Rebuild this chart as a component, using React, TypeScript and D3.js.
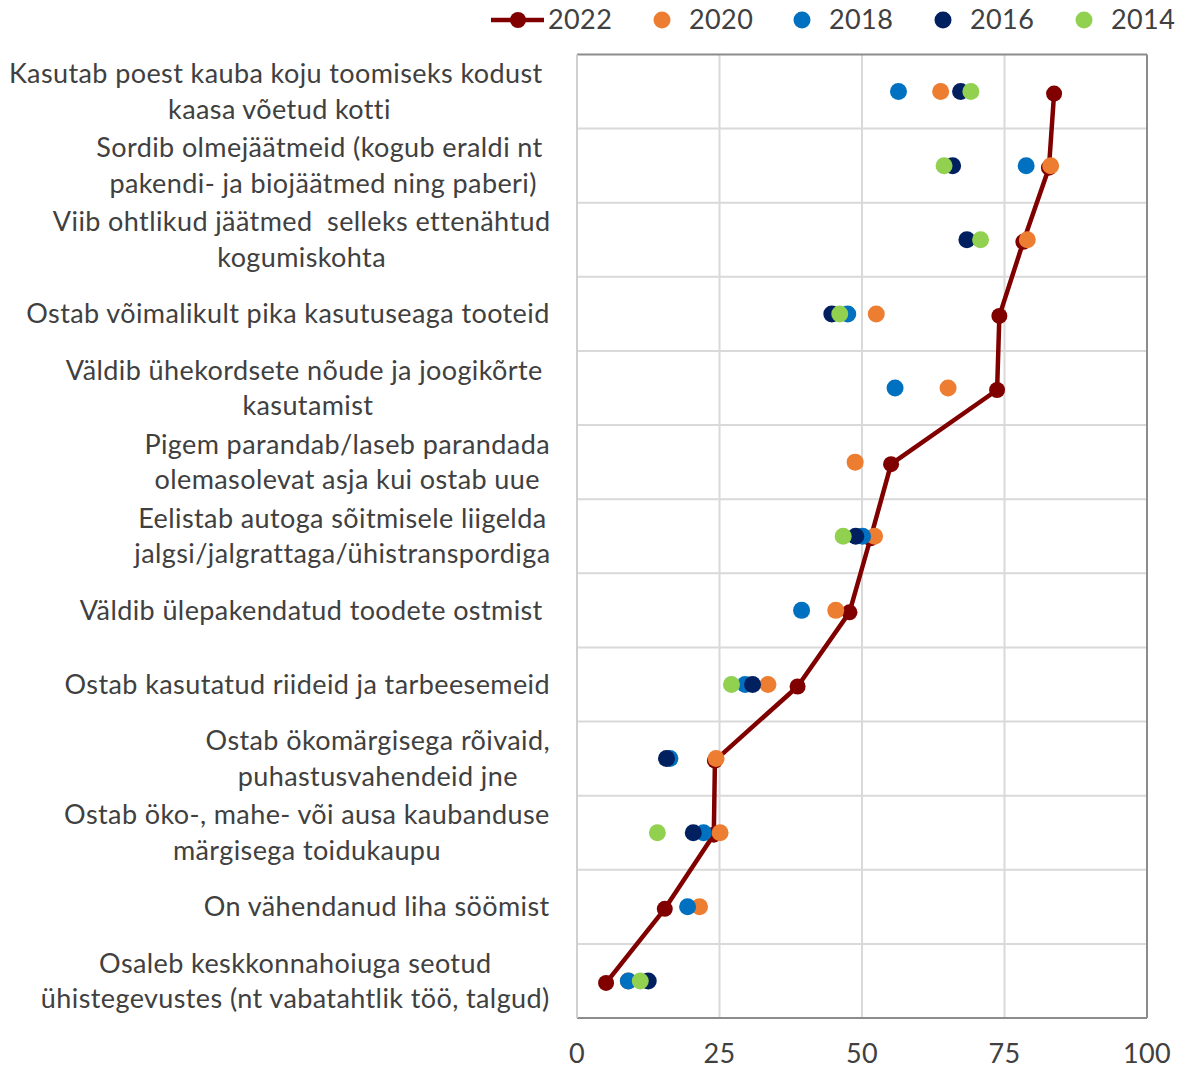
import React from "react";
import * as d3 from "d3";

const categories: string[][] = [
  ["Kasutab poest kauba koju toomiseks kodust ", "kaasa võetud kotti"],
  ["Sordib olmejäätmeid (kogub eraldi nt ", "pakendi- ja biojäätmed ning paberi)"],
  ["Viib ohtlikud jäätmed  selleks ettenähtud", "kogumiskohta"],
  ["Ostab võimalikult pika kasutuseaga tooteid"],
  ["Väldib ühekordsete nõude ja joogikõrte ", "kasutamist"],
  ["Pigem parandab/laseb parandada", "olemasolevat asja kui ostab uue"],
  ["Eelistab autoga sõitmisele liigelda", "jalgsi/jalgrattaga/ühistranspordiga"],
  ["Väldib ülepakendatud toodete ostmist "],
  ["Ostab kasutatud riideid ja tarbeesemeid"],
  ["Ostab ökomärgisega rõivaid,", "puhastusvahendeid jne"],
  ["Ostab öko-, mahe- või ausa kaubanduse", "märgisega toidukaupu"],
  ["On vähendanud liha söömist"],
  ["Osaleb keskkonnahoiuga seotud", "ühistegevustes (nt vabatahtlik töö, talgud)"],
];

const v2022: (number | null)[] = [83.7, 82.8, 78.3, 74.1, 73.7, 55.1, 51.5, 47.8, 38.7, 24.2, 24.0, 15.4, 5.1];
const v2020: (number | null)[] = [63.8, 83.1, 79.0, 52.5, 65.1, 48.8, 52.2, 45.4, 33.5, 24.4, 25.1, 21.5, 9.0];
const v2018: (number | null)[] = [56.4, 78.8, null, 47.5, 55.8, null, 50.1, 39.4, 29.5, 16.3, 22.2, 19.4, 9.0];
const v2016: (number | null)[] = [67.3, 65.9, 68.4, 44.7, null, null, 48.9, null, 30.8, 15.7, 20.4, null, 12.5];
const v2014: (number | null)[] = [69.1, 64.4, 70.8, 46.1, null, null, 46.7, null, 27.1, null, 14.1, null, 11.1];

const seriesNames = ["2022", "2020", "2018", "2016", "2014"];
const xTicks = [0, 25, 50, 75, 100];

const COLORS: Record<string, string> = {
  "2022": "#800000",
  "2020": "#ED7D31",
  "2018": "#0070C0",
  "2016": "#002060",
  "2014": "#92D050",
};

const FONT_FAMILY = "Lato";
const FONT_SIZE = 27;
const LETTER_SPACING = 0.4;
const TEXT_COLOR = "#404040";

let measureCtx: CanvasRenderingContext2D | null = null;
function textWidth(s: string): number {
  if (!measureCtx) {
    const c = document.createElement("canvas");
    measureCtx = c.getContext("2d");
  }
  if (!measureCtx) return s.length * FONT_SIZE * 0.5;
  measureCtx.font = `${FONT_SIZE}px ${FONT_FAMILY}`;
  return measureCtx.measureText(s).width + LETTER_SPACING * s.length;
}

export default function App() {
  const W = 1187;
  const H = 1069;
  const left = 577;
  const right = 1147;
  const top = 54.5;
  const bottom = 1018;

  const x = d3.scaleLinear().domain([0, 100]).range([left, right]);
  const idx = categories.map((_, i) => i);
  const y = d3.scaleBand<number>().domain(idx).range([top, bottom]);
  const bw = y.bandwidth();
  const cy = (i: number) => (y(i) as number) + bw / 2;

  const seriesData: Record<string, (number | null)[]> = {
    "2022": v2022,
    "2020": v2020,
    "2018": v2018,
    "2016": v2016,
    "2014": v2014,
  };

  const linePts = v2022
    .map((v, i) => ({ v, i }))
    .filter((d) => d.v != null) as { v: number; i: number }[];
  const line = d3
    .line<{ v: number; i: number }>()
    .x((d) => x(d.v))
    .y((d) => cy(d.i) + 2);

  const labelRight = 550;
  const lineH = 35.5;

  const legendX = [518, 662, 802, 943, 1084];
  const legendY = 20;

  return (
    <svg width={W} height={H} style={{ display: "block", position: "absolute", left: 0, top: 0 }}
      fontFamily={FONT_FAMILY} letterSpacing={LETTER_SPACING}>
      <rect x={0} y={0} width={W} height={H} fill="#ffffff" />
      {idx.slice(1).map((i) => (
        <line key={"h" + i} x1={left} x2={right} y1={y(i) as number} y2={y(i) as number}
          stroke="#D9D9D9" strokeWidth={2} />
      ))}
      {xTicks.slice(1, -1).map((t) => (
        <line key={"v" + t} x1={x(t)} x2={x(t)} y1={top} y2={bottom} stroke="#D9D9D9" strokeWidth={2} />
      ))}
      <line x1={left} x2={right} y1={top} y2={top} stroke="#8C8C8C" strokeWidth={2} />
      <line x1={right} x2={right} y1={top} y2={bottom} stroke="#8C8C8C" strokeWidth={2} />
      <line x1={left} x2={right} y1={bottom} y2={bottom} stroke="#8C8C8C" strokeWidth={2} />
      <line x1={left} x2={left} y1={top} y2={bottom} stroke="#D0D0D0" strokeWidth={2} />

      <path d={line(linePts) || ""} fill="none" stroke={COLORS["2022"]} strokeWidth={4.5} strokeLinejoin="round" />
      {linePts.map((d) => (
        <circle key={"m22" + d.i} cx={x(d.v)} cy={cy(d.i) + 2} r={8} fill={COLORS["2022"]} />
      ))}
      {seriesNames.slice(1).map((s) =>
        seriesData[s].map((v, i) =>
          v == null ? null : (
            <circle key={s + "-" + i} cx={x(v)} cy={cy(i)} r={8.5} fill={COLORS[s]} />
          )
        )
      )}

      {categories.map((lines, i) => {
        const w = Math.max(...lines.map(textWidth));
        const center = labelRight - w / 2;
        const n = lines.length;
        return (
          <text key={"c" + i} fontSize={FONT_SIZE} fill={TEXT_COLOR} textAnchor="middle">
            {lines.map((l, j) => (
              <tspan key={j} x={center} y={cy(i) + (j - (n - 1) / 2) * lineH} dy="0.35em"
                style={{ whiteSpace: "pre" }}>
                {l}
              </tspan>
            ))}
          </text>
        );
      })}

      {xTicks.map((t) => (
        <text key={"t" + t} x={x(t)} y={1054} dy="0.35em" textAnchor="middle" fontSize={FONT_SIZE} fill={TEXT_COLOR}>
          {t}
        </text>
      ))}

      {seriesNames.map((s, k) => {
        const cx0 = legendX[k];
        if (k === 0) {
          return (
            <g key={"lg" + s}>
              <line x1={cx0 - 27} x2={cx0 + 26} y1={legendY} y2={legendY} stroke={COLORS[s]} strokeWidth={4.5} />
              <circle cx={cx0} cy={legendY} r={8} fill={COLORS[s]} />
              <text x={cx0 + 30} y={legendY} dy="0.35em" fontSize={FONT_SIZE} fill={TEXT_COLOR}>{s}</text>
            </g>
          );
        }
        return (
          <g key={"lg" + s}>
            <circle cx={cx0} cy={legendY} r={8.5} fill={COLORS[s]} />
            <text x={cx0 + 27} y={legendY} dy="0.35em" fontSize={FONT_SIZE} fill={TEXT_COLOR}>{s}</text>
          </g>
        );
      })}
    </svg>
  );
}
